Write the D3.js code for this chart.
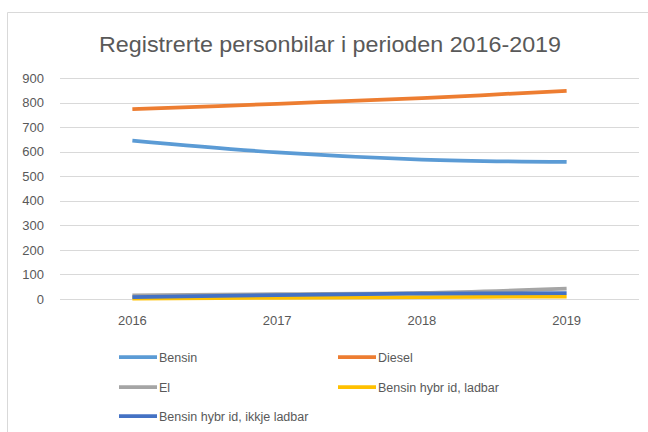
<!DOCTYPE html>
<html>
<head>
<meta charset="utf-8">
<script src="https://cdn.jsdelivr.net/npm/d3@7"></script>
<style>
  html, body { margin: 0; padding: 0; background: #fff; }
  svg { display: block; }
</style>
</head>
<body>
<svg id="chart" width="648" height="432"></svg>
<script>
// ---- data ----
const years = ['2016', '2017', '2018', '2019'];
const seriesNames = ['Bensin', 'Diesel', 'El', 'Bensin hybr id, ladbar', 'Bensin hybr id, ikkje ladbar'];
const bensin = [645, 597, 568, 558];
const diesel = [773, 795, 818, 848];
const el = [15, 20, 25, 42];
const hybridLadbar = [2, 5, 8, 10];
const hybridIkkje = [8, 16, 22, 24];
const yTicks = [0, 100, 200, 300, 400, 500, 600, 700, 800, 900];

const colors = ['#5b9bd5', '#ed7d31', '#a5a5a5', '#ffc000', '#4472c4'];
const allValues = [bensin, diesel, el, hybridLadbar, hybridIkkje];
const series = seriesNames.map((name, i) => ({ name, color: colors[i], values: allValues[i] }));

const svg = d3.select('#chart');
const font = '"Liberation Sans", Arial, sans-serif';
const textCol = '#595959';

// chart frame
svg.append('path')
  .attr('d', 'M7.5,432 L7.5,12.5 L648,12.5')
  .attr('fill', 'none')
  .attr('stroke', '#d9d9d9')
  .attr('stroke-width', 1);

// title
svg.append('text')
  .attr('x', 330).attr('y', 52)
  .attr('text-anchor', 'middle')
  .attr('textLength', 462)
  .attr('lengthAdjust', 'spacingAndGlyphs')
  .style('font-family', font)
  .style('font-size', '22px')
  .style('fill', textCol)
  .text('Registrerte personbilar i perioden 2016-2019');

// scales
const plot = { left: 60, right: 639, top: 78, bottom: 299 };
const x = d3.scaleBand().domain(years).range([plot.left, plot.right]);
const y = d3.scaleLinear().domain([0, 900]).range([plot.bottom, plot.top]);

// gridlines
svg.append('g')
  .selectAll('line')
  .data(yTicks)
  .enter()
  .append('line')
  .attr('x1', plot.left).attr('x2', plot.right)
  .attr('y1', d => Math.round(y(d)) + 0.5)
  .attr('y2', d => Math.round(y(d)) + 0.5)
  .attr('stroke', '#d9d9d9')
  .attr('stroke-width', 1);

// y axis labels
const yAxis = svg.append('g')
  .attr('transform', `translate(${plot.left - 16},0)`)
  .call(d3.axisLeft(y).tickValues(yTicks).tickSize(0).tickPadding(0));
yAxis.select('.domain').remove();
yAxis.selectAll('text')
  .style('font-family', font)
  .style('font-size', '13px')
  .style('fill', textCol);

// x axis labels
const xAxis = svg.append('g')
  .attr('transform', `translate(0,${plot.bottom + 17})`)
  .call(d3.axisBottom(x).tickSize(0).tickPadding(0));
xAxis.select('.domain').remove();
xAxis.selectAll('text')
  .style('font-family', font)
  .style('font-size', '13px')
  .style('fill', textCol);

// lines
const line = d3.line()
  .x((d, i) => x(years[i]) + x.bandwidth() / 2)
  .y(d => y(d))
  .curve(d3.curveCatmullRom.alpha(0.5));

svg.append('g')
  .selectAll('path')
  .data(series)
  .enter()
  .append('path')
  .attr('d', d => line(d.values))
  .attr('fill', 'none')
  .attr('stroke', d => d.color)
  .attr('stroke-width', 3.75)
  .attr('stroke-linecap', 'butt');

// legend
const legendPos = [
  { x: 119, y: 357 },
  { x: 338, y: 357 },
  { x: 119, y: 387 },
  { x: 338, y: 387 },
  { x: 119, y: 416 }
];
const legend = svg.append('g')
  .selectAll('g')
  .data(series)
  .enter()
  .append('g')
  .attr('transform', (d, i) => `translate(${legendPos[i].x},${legendPos[i].y})`);

legend.append('line')
  .attr('x1', 0).attr('x2', 38)
  .attr('y1', 0).attr('y2', 0)
  .attr('stroke', d => d.color)
  .attr('stroke-width', 3.75);

legend.append('text')
  .attr('x', 40).attr('y', 4.5)
  .style('font-family', font)
  .style('font-size', '12.5px')
  .style('fill', textCol)
  .text(d => d.name);
</script>
</body>
</html>
